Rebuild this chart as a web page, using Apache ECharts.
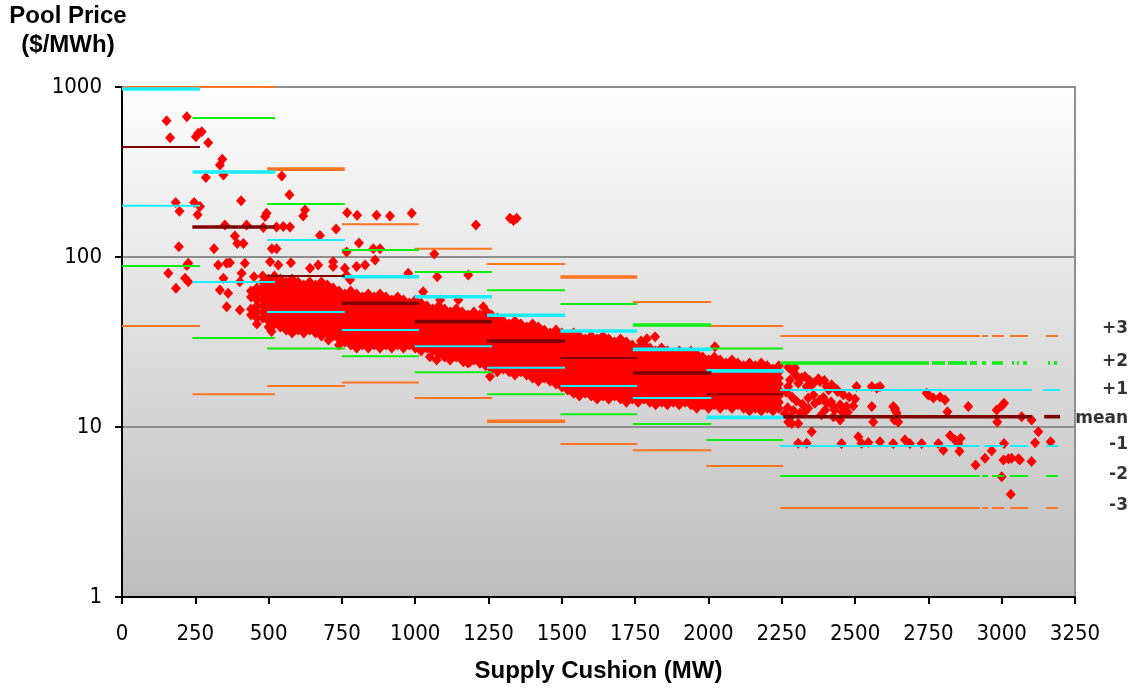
<!DOCTYPE html>
<html><head><meta charset="utf-8">
<script src="https://cdn.jsdelivr.net/npm/echarts@6.0.0/dist/echarts.min.js"></script>
<style>html,body{margin:0;padding:0;background:#fff}#c{width:1134px;height:688px}</style>
</head><body><div id="c"></div>
<script>
// ---------- DATA ----------
const xTicks = [0,250,500,750,1000,1250,1500,1750,2000,2250,2500,2750,3000,3250];
const yTicks = [1,10,100,1000];
const levelNames = ['+3','+2','+1','mean','-1','-2','-3'];

// band (bin) ranges in MW for the first nine bins
const binRanges = [[0,266],[240,522],[495,760],[750,1013],[998,1262],[1245,1511],[1495,1757],[1742,2010],[1993,2255]];

// level values per bin (A..J)
const plus3  = [1000,1000,329,156,112,90.9,76.3,54.4,39.3,34.3];
const plus2  = [null,657,205,110,81.6,63.7,52.9,39.8,29.0,23.8];
const plus1  = [973,316,126,76.6,58.4,45.4,36.7,28.6,21.4,16.5];
const meanV  = [444,150,77.3,53.5,41.7,32.0,25.5,20.8,15.6,11.5];
const minus1 = [200,71.3,47.4,37.2,29.9,22.3,17.4,14.8,11.4,7.73];
const minus2 = [88.6,33.4,29.0,26.1,21.0,15.6,11.9,10.4,8.38,5.15];
const minus3 = [39.3,15.6,17.4,18.3,14.8,10.8,7.94,7.3,5.9,3.34];

// last bin (2250+) pieces in MW, per level
const lastPlus3  = [[2245,2925],[2933,2953],[2967,3008],[3028,3090],[3151,3192]];
const lastPlus2  = [[2245,2752],[2762,2807],[2817,2882],[2892,2916],[2933,2947],[2967,3004],[3035,3042],[3052,3059],[3073,3086],[3158,3165],[3178,3189]];
const lastPlus1  = [[2245,3103],[3141,3199]];
const lastMean   = [[2255,3103],[3145,3199]];
const lastMinus1 = [[2245,2925],[2940,3008],[3028,3090],[3151,3192]];
const lastMinus2 = [[2245,2925],[2933,2953],[2967,3008],[3028,3090],[3151,3192]];
const lastMinus3 = [[2245,2925],[2933,2953],[2967,3008],[3028,3090],[3151,3192]];

// scattered observations [MW, $/MWh]
const pointsLeft = [
[152,634],[221,669],[164,503],[252,510],[260,534],[272,546],[294,470],[342,376],[334,348],[286,294],[346,304],[545,300],[571,232],
[183,209],[196,186],[246,209],[266,198],[258,177],[406,214],[493,181],[488,173],[624,189],[618,174],
[768,182],[802,176],[868,176],[914,174],[988,181],
[351,154],[425,154],[482,149],[527,150],[550,151],[573,150],
[385,133],[393,120],[414,120],[675,134],[730,146],
[194,115],[314,112],[527,112],[511,112],[808,121],[766,107],[857,112],[880,112],[1065,104],
[1207,154],[1323,169],[1346,169],[1335,164],
[226,91.8],[221,89],[158,80.2],[215,74.9],[226,71.6],[184,65.5],
[328,89.8],[357,91.8],[368,92.6],[419,91.8],[505,93.8],[533,89.8],[576,92.6],[641,85.9],[669,89.8],[720,93.8],[720,88],[760,85.9],[800,88],[829,89.8],[863,96],
[346,74.9],[408,80.2],[402,71.6],[357,51],[402,48.8],[334,64],[362,61.2],
[766,78],[778,73.6],[976,80.2],[1075,76.6],[1181,78.3],[1027,62.5],[1085,55.9],[1147,55.9],[1232,51],[1244,47.6],
[450,76.6],[465,61.2],[704,32.5],[505,38.9],[510,36.5],
[1050,25.9],[1073,24.8],[1119,24.8],[1164,24.2],[1187,24.2],[1221,23.8],[1255,19.8],
[1818,34],[1790,33],[2022,29.7],[1770,32]
];
const pointsRight = [
[2295,22.2],[2329,19.8],[2278,18.9],[2272,17.3],[2306,18.1],[2335,17.3],[2352,17.7],[2380,18.5],[2420,17.7],[2403,17.3],[2438,16.6],
[2358,15.4],[2363,13.8],[2380,14.4],[2403,13.8],[2426,13.2],[2449,13.5],[2466,12.6],[2471,13.2],
[2272,22.5],[2290,21],[2300,20],[2318,19.5],[2345,18.8],[2360,18.2],[2375,19.2],[2395,18.8],[2410,16.5],[2440,16.2],[2460,15.5],[2480,15],[2500,14.6],
[2265,16],[2285,15],[2300,14.2],[2320,13.6],[2340,14.8],[2270,13],[2290,12.5],[2260,12],[2280,11.5],
[2392,14.9],[2418,14.1],[2430,12.6],[2456,12.2],[2475,12.2],[2398,12.6],[2385,11.8],
[2272,10.7],[2284,10.5],[2306,10.5],[2329,12.3],[2312,12.1],[2340,12.9],[2426,11.5],[2449,11.0],
[2494,13.3],[2505,17.3],[2557,17.3],[2574,16.9],[2557,13.2],[2562,10.7],[2585,17.3],
[2636,12.9],[2642,12.1],[2634,11.0],[2636,12.6],[2647,10.7],[2630,13.2],
[2744,15.8],[2750,15.4],[2767,14.8],[2790,15.0],[2807,14.4],[2815,12.3],[2886,13.2],
[2983,12.6],[3000,13.3],[3008,13.8],[2985,10.7],[3068,11.5],[3102,11.0],
[2352,9.38],[2306,8.02],[2335,8.02],[2454,8.0],[2511,8.77],[2522,8.02],[2545,8.1],[2585,8.2],[2630,8.0],[2670,8.4],[2687,8.0],
[2727,8.0],[2784,8.0],[2824,8.9],[2840,8.4],[2852,8.0],[2860,8.6],[2801,7.3],[2856,7.2],
[2911,5.98],[2943,6.54],[2966,7.26],[3006,6.4],[3034,6.54],[3062,6.4],[3102,6.27],[3114,8.09],[3125,9.38],[3167,8.2],
[3008,8.0],[3000,5.1],[3031,4.02],[3023,6.5],[3057,6.5]
];

// dense band: column positions (MW) and the observations read in each column
const bandX = [440,460,480,500,520,540,560,580,600,620,640,660,680,700,720,740,760,780,800,820,840,860,880,900,920,940,960,980,1000,1020,1040,1060,1080,1100,1120,1140,1160,1180,1200,1220,1240,1260,1280,1300,1320,1340,1360,1380,1400,1420,1440,1460,1480,1500,1520,1540,1560,1580,1600,1620,1640,1660,1680,1700,1720,1740,1760,1780,1800,1820,1840,1860,1880,1900,1920,1940,1960,1980,2000,2020,2040,2060,2080,2100,2120,2140,2160,2180,2200,2220,2240];
const bandY = [
[63.1,58.2,49.4,45.6],
[65.7,60.6,55.9,51.5,47.5,43.8,40.4],
[77.3,71.3,65.7,60.6,55.9,51.5,47.5,43.8],
[74.2,68.4,63.1,58.2,53.6,49.4,45.6,42.0,38.8],
[77.3,71.3,65.7,60.6,55.9,51.5,47.5,43.8,40.4],
[74.2,68.4,63.1,58.2,53.6,49.4,45.6,42.0,38.8],
[71.3,65.7,60.6,55.9,51.5,47.5,43.8,40.4,37.2],
[74.2,68.4,63.1,58.2,53.6,49.4,45.6,42.0,38.8,35.7],
[71.3,65.7,60.6,55.9,51.5,47.5,43.8,40.4,37.2],
[68.4,63.1,58.2,53.6,49.4,45.6,42.0,38.8,35.7],
[71.3,65.7,60.6,55.9,51.5,47.5,43.8,40.4,37.2],
[68.4,63.1,58.2,53.6,49.4,45.6,42.0,38.8,35.7],
[71.3,65.7,60.6,55.9,51.5,47.5,43.8,40.4,37.2,34.3],
[68.4,63.1,58.2,53.6,49.4,45.6,42.0,38.8,35.7],
[65.7,60.6,55.9,51.5,47.5,43.8,40.4,37.2,34.3],
[63.1,58.2,53.6,49.4,45.6,42.0,38.8,35.7,32.9,30.4],
[60.6,55.9,51.5,47.5,43.8,40.4,37.2,34.3,31.6],
[63.1,58.2,53.6,49.4,45.6,42.0,38.8,35.7,32.9,30.4],
[60.6,55.9,51.5,47.5,43.8,40.4,37.2,34.3,31.6,29.2],
[58.2,53.6,49.4,45.6,42.0,38.8,35.7,32.9,30.4],
[60.6,55.9,51.5,47.5,43.8,40.4,37.2,34.3,31.6,29.2],
[58.2,53.6,49.4,45.6,42.0,38.8,35.7,32.9,30.4],
[60.6,55.9,51.5,47.5,43.8,40.4,37.2,34.3,31.6,29.2],
[58.2,53.6,49.4,45.6,42.0,38.8,35.7,32.9,30.4],
[55.9,51.5,47.5,43.8,40.4,37.2,34.3,31.6,29.2],
[58.2,53.6,49.4,45.6,42.0,38.8,35.7,32.9,30.4],
[55.9,51.5,47.5,43.8,40.4,37.2,34.3,31.6,29.2],
[53.6,49.4,45.6,42.0,38.8,35.7,32.9,30.4],
[55.9,51.5,47.5,43.8,40.4,37.2,34.3,31.6,29.2],
[53.6,49.4,45.6,42.0,38.8,35.7,32.9,30.4,28.0],
[51.5,47.5,43.8,40.4,37.2,34.3,31.6,29.2],
[49.4,45.6,42.0,38.8,35.7,32.9,30.4,28.0],
[51.5,47.5,43.8,40.4,37.2,34.3,31.6,29.2,26.9],
[49.4,45.6,42.0,38.8,35.7,32.9,30.4,28.0,25.8],
[47.5,43.8,40.4,37.2,34.3,31.6,29.2,26.9],
[49.4,45.6,42.0,38.8,35.7,32.9,30.4,28.0,25.8],
[47.5,43.8,40.4,37.2,34.3,31.6,29.2,26.9,24.8],
[45.6,42.0,38.8,35.7,32.9,30.4,28.0,25.8,23.8],
[47.5,43.8,40.4,37.2,34.3,31.6,29.2,26.9,24.8],
[45.6,42.0,38.8,35.7,32.9,30.4,28.0,25.8,23.8],
[47.5,43.8,40.4,37.2,34.3,31.6,29.2,26.9,24.8,22.9],
[45.6,42.0,38.8,35.7,32.9,30.4,28.0,25.8,23.8,21.9],
[43.8,40.4,37.2,34.3,31.6,29.2,26.9,24.8,22.9,21.1],
[42.0,38.8,35.7,32.9,30.4,28.0,25.8,23.8,21.9],
[40.4,37.2,34.3,31.6,29.2,26.9,24.8,22.9,21.1],
[42.0,38.8,35.7,32.9,30.4,28.0,25.8,23.8,21.9,20.2],
[40.4,37.2,34.3,31.6,29.2,26.9,24.8,22.9,21.1],
[38.8,35.7,32.9,30.4,28.0,25.8,23.8,21.9,20.2],
[40.4,37.2,34.3,31.6,29.2,26.9,24.8,22.9,21.1,19.4],
[38.8,35.7,32.9,30.4,28.0,25.8,23.8,21.9,20.2,18.6],
[37.2,34.3,31.6,29.2,26.9,24.8,22.9,21.1,19.4],
[35.7,32.9,30.4,28.0,25.8,23.8,21.9,20.2,18.6],
[37.2,34.3,31.6,29.2,26.9,24.8,22.9,21.1,19.4,17.9],
[35.7,32.9,30.4,28.0,25.8,23.8,21.9,20.2,18.6,17.2],
[34.3,31.6,29.2,26.9,24.8,22.9,21.1,19.4,17.9,16.5],
[35.7,32.9,30.4,28.0,25.8,23.8,21.9,20.2,18.6,17.2,15.8],
[34.3,31.6,29.2,26.9,24.8,22.9,21.1,19.4,17.9,16.5,15.2],
[32.9,30.4,28.0,25.8,23.8,21.9,20.2,18.6,17.2,15.8],
[34.3,31.6,29.2,26.9,24.8,22.9,21.1,19.4,17.9,16.5,15.2],
[32.9,30.4,28.0,25.8,23.8,21.9,20.2,18.6,17.2,15.8,14.6],
[34.3,31.6,29.2,26.9,24.8,22.9,21.1,19.4,17.9,16.5,15.2],
[32.9,30.4,28.0,25.8,23.8,21.9,20.2,18.6,17.2,15.8,14.6],
[31.6,29.2,26.9,24.8,22.9,21.1,19.4,17.9,16.5,15.2],
[32.9,30.4,28.0,25.8,23.8,21.9,20.2,18.6,17.2,15.8,14.6],
[31.6,29.2,26.9,24.8,22.9,21.1,19.4,17.9,16.5,15.2,14.0],
[30.4,28.0,25.8,23.8,21.9,20.2,18.6,17.2,15.8,14.6],
[29.2,26.9,24.8,22.9,21.1,19.4,17.9,16.5,15.2,14.0],
[30.4,28.0,25.8,23.8,21.9,20.2,18.6,17.2,15.8,14.6],
[29.2,26.9,24.8,22.9,21.1,19.4,17.9,16.5,15.2,14.0],
[28.0,25.8,23.8,21.9,20.2,18.6,17.2,15.8,14.6,13.5],
[29.2,26.9,24.8,22.9,21.1,19.4,17.9,16.5,15.2,14.0],
[28.0,25.8,23.8,21.9,20.2,18.6,17.2,15.8,14.6,13.5],
[26.9,24.8,22.9,21.1,19.4,17.9,16.5,15.2,14.0],
[28.0,25.8,23.8,21.9,20.2,18.6,17.2,15.8,14.6,13.5],
[26.9,24.8,22.9,21.1,19.4,17.9,16.5,15.2,14.0],
[28.0,25.8,23.8,21.9,20.2,18.6,17.2,15.8,14.6,13.5],
[26.9,24.8,22.9,21.1,19.4,17.9,16.5,15.2,14.0,12.9],
[25.8,23.8,21.9,20.2,18.6,17.2,15.8,14.6,13.5],
[24.8,22.9,21.1,19.4,17.9,16.5,15.2,14.0,12.9],
[25.8,23.8,21.9,20.2,18.6,17.2,15.8,14.6,13.5],
[24.8,22.9,21.1,19.4,17.9,16.5,15.2,14.0,12.9],
[23.8,21.9,20.2,18.6,17.2,15.8,14.6,13.5],
[24.8,22.9,21.1,19.4,17.9,16.5,15.2,14.0,12.9],
[23.8,21.9,20.2,18.6,17.2,15.8,14.6,13.5],
[22.9,21.1,19.4,17.9,16.5,15.2,14.0,12.9],
[23.8,21.9,20.2,18.6,17.2,15.8,14.6,13.5,12.4],
[22.9,21.1,19.4,17.9,16.5,15.2,14.0,12.9],
[23.8,21.9,20.2,18.6,17.2,15.8,14.6,13.5,12.4],
[22.9,21.1,19.4,17.9,16.5,15.2,14.0,12.9],
[21.9,20.2,18.6,17.2,15.8,14.6,13.5,12.4],
[22.9,21.1,19.4,17.9,16.5,15.2,14.0,12.9]
];

// ---------- BUILD ----------
const levelValues = [plus3, plus2, plus1, meanV, minus1, minus2, minus3];
const lastPieces = [lastPlus3, lastPlus2, lastPlus1, lastMean, lastMinus1, lastMinus2, lastMinus3];
const levelColors = ['#ff7322','#10ee10','#18eeff','#800000','#18eeff','#10ee10','#ff7322'];
const thickBins = [[2,6],[7,9],[0,1,3,4,5,6,7,8],[1,3,4,5,7,9],[8],[],[5]];
const labelDy = [-7,-1,0,2,-1,-1,-2];

const scatterData = [];
pointsLeft.forEach(p => scatterData.push(p));
pointsRight.forEach(p => scatterData.push(p));
bandX.forEach((x, i) => { (bandY[i] || []).forEach(v => scatterData.push([x, v])); });

const series = [{
  type: 'scatter', data: scatterData, symbol: 'diamond', symbolSize: [10, 11],
  itemStyle: { color: '#ff0000', opacity: 1 }, silent: true, z: 2, animation: false, large: false
}];

levelValues.forEach((vals, li) => {
  vals.forEach((v, b) => {
    if (v == null) return;
    const pieces = b < binRanges.length ? [binRanges[b]] : lastPieces[li];
    const w = thickBins[li].indexOf(b) >= 0 ? 3.6 : 2;
    pieces.forEach(pc => {
      series.push({
        type: 'line', data: [[pc[0], v], [pc[1], v]], symbol: 'none', silent: true,
        clip: false, z: 3, animation: false,
        lineStyle: { color: levelColors[li], width: w, cap: 'butt' }
      });
    });
  });
});

series.push({
  type: 'scatter', clip: false, silent: true, z: 4, animation: false,
  symbol: 'circle', symbolSize: 1, itemStyle: { color: 'rgba(0,0,0,0)' },
  data: levelNames.map((n, i) => ({
    name: n, value: [3250, levelValues[i][9]],
    label: { offset: [53, labelDy[i]] }
  })),
  label: {
    show: true, position: 'inside', align: 'right', verticalAlign: 'middle',
    formatter: p => p.name, color: '#000',
    fontFamily: '"DejaVu Sans", sans-serif', fontWeight: 'bold', fontSize: 17
  }
});

const tickFont = '"DejaVu Sans Condensed", "Liberation Sans", sans-serif';

const option = {
  animation: false,
  backgroundColor: '#ffffff',
  grid: {
    left: 122, right: 59, top: 87, bottom: 91, show: true,
    borderColor: '#8f8f8f', borderWidth: 2,
    backgroundColor: new echarts.graphic.LinearGradient(0, 0, 0, 1, [
      { offset: 0, color: '#fefefe' }, { offset: 1, color: '#bdbdbd' }
    ])
  },
  xAxis: {
    type: 'value', min: xTicks[0], max: xTicks[xTicks.length - 1], interval: 250,
    name: 'Supply Cushion (MW)', nameLocation: 'middle', nameGap: 62,
    nameTextStyle: { color: '#000', fontSize: 24, fontWeight: 'bold', fontFamily: '"Liberation Sans", sans-serif' },
    axisLine: { show: true, onZero: false, lineStyle: { color: '#000', width: 2 } },
    axisTick: { show: true, length: 7, lineStyle: { color: '#000', width: 2 } },
    axisLabel: { color: '#000', fontSize: 22, fontFamily: tickFont, margin: 26, formatter: v => String(v) },
    splitLine: { show: false }
  },
  yAxis: {
    type: 'log', logBase: 10, min: yTicks[0], max: yTicks[yTicks.length - 1],
    axisLine: { show: true, lineStyle: { color: '#000', width: 2 } },
    axisTick: { show: true, length: 7, lineStyle: { color: '#000', width: 2 } },
    axisLabel: { color: '#000', fontSize: 22, fontFamily: tickFont, margin: 20, formatter: v => String(Math.round(v)) },
    splitLine: { show: true, lineStyle: { color: '#8f8f8f', width: 2 } },
    minorTick: { show: false }, minorSplitLine: { show: false }
  },
  graphic: [{
    type: 'text', x: 68, y: 2, silent: true,
    style: {
      text: 'Pool Price\n($/MWh)', textAlign: 'center', textVerticalAlign: 'top',
      font: 'bold 24px "Liberation Sans", sans-serif', lineHeight: 29, fill: '#000'
    }
  }],
  series: series
};

const chart = echarts.init(document.getElementById('c'), null, { renderer: 'canvas' });
chart.setOption(option);
</script></body></html>
